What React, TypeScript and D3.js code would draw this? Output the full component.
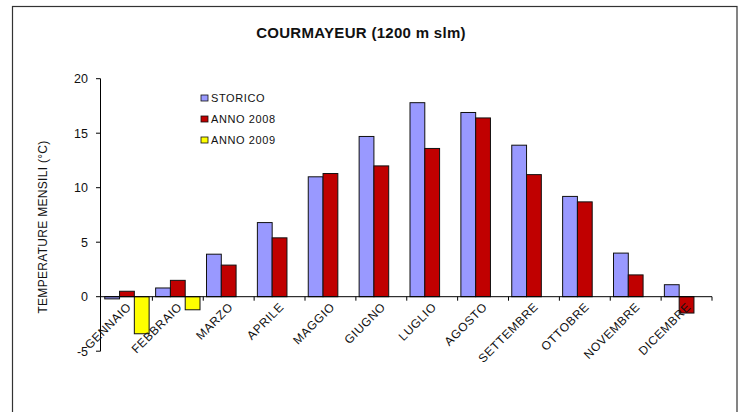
import React, { useEffect } from "react";
import * as d3 from "d3";

const months = ["GENNAIO","FEBBRAIO","MARZO","APRILE","MAGGIO","GIUGNO","LUGLIO","AGOSTO","SETTEMBRE","OTTOBRE","NOVEMBRE","DICEMBRE"];
const storico = [-0.2, 0.8, 3.9, 6.8, 11.0, 14.7, 17.8, 16.9, 13.9, 9.2, 4.0, 1.1];
const anno2008 = [0.5, 1.5, 2.9, 5.4, 11.3, 12.0, 13.6, 16.4, 11.2, 8.7, 2.0, -1.5];
const anno2009: (number | null)[] = [-3.4, -1.2, null, null, null, null, null, null, null, null, null, null];
const seriesNames = ["STORICO", "ANNO 2008", "ANNO 2009"];
const seriesColors = ["#9999FF", "#C00000", "#FFFF00"];
const yTicks = [-5, 0, 5, 10, 15, 20];

const W = 742, H = 412;
const FONT = "'Liberation Sans', Arial, sans-serif";

export default function App() {
  useEffect(() => {
    document.body.style.margin = "0";
  }, []);

  const x0 = d3.scaleBand<string>().domain(months).range([101.5, 712]).paddingInner(0).paddingOuter(0);
  const x1 = d3.scaleBand<string>().domain(seriesNames).range([0, x0.bandwidth()]).paddingOuter(0.22).paddingInner(0);
  const y = d3.scaleLinear().domain([-5, 20]).range([351.2, 78.7]);
  const all = [storico, anno2008, anno2009];

  return (
    <svg width={W} height={H} style={{ position: "absolute", left: 0, top: 0, background: "#fff" }} fontFamily={FONT}>
      <rect x={12.5} y={6.5} width={724.5} height={420} fill="#fff" stroke="#333" strokeWidth={1.2} />
      <text x={361} y={38} textAnchor="middle" fontSize={15} fontWeight="bold" fill="#111" letterSpacing={0.3}>
        COURMAYEUR (1200 m slm)
      </text>
      <g transform="translate(47,227)">
        <text transform="rotate(-90)" textAnchor="middle" fontSize={12} fill="#111" letterSpacing={0.3}>
          TEMPERATURE MENSILI (°C)
        </text>
      </g>
      {/* y axis */}
      <line x1={100.5} x2={100.5} y1={y(20)} y2={y(-5)} stroke="#000" />
      {yTicks.map((t) => (
        <g key={"yt" + t}>
          <line x1={96} x2={100.5} y1={y(t)} y2={y(t)} stroke="#000" />
          <text x={88} y={y(t)} dy="0.36em" textAnchor="end" fontSize={12.5} fill="#111">{t}</text>
        </g>
      ))}
      {/* bars */}
      {months.map((m, i) => (
        <g key={"b" + m} transform={`translate(${x0(m)},0)`}>
          {all.map((s, j) => {
            const v = s[i];
            if (v === null || v === undefined) return null;
            const y0 = y(0), yv = y(v);
            return (
              <rect key={j} x={x1(seriesNames[j])} y={Math.min(y0, yv)} width={x1.bandwidth()}
                height={Math.abs(yv - y0)} fill={seriesColors[j]} stroke="#111" strokeWidth={1} />
            );
          })}
        </g>
      ))}
      {/* x axis */}
      <line x1={100.5} x2={712} y1={y(0)} y2={y(0)} stroke="#000" />
      {months.map((m) => (
        <line key={"t" + m} x1={(x0(m) as number) + x0.bandwidth()} x2={(x0(m) as number) + x0.bandwidth()} y1={y(0)} y2={y(0) + 4} stroke="#000" />
      ))}
      {months.map((m) => {
        const cx = (x0(m) as number) + x0.bandwidth() / 2;
        return (
          <g key={"l" + m} transform={`translate(${cx + 5},${y(0) + 11})`}>
            <text transform="rotate(-45)" textAnchor="end" fontSize={12} fill="#111" letterSpacing={0.6}>
              {m}
            </text>
          </g>
        );
      })}
      {/* legend */}
      {seriesNames.map((n, j) => (
        <g key={n} transform={`translate(201,${98 + j * 21})`}>
          <rect x={0} y={-3} width={7} height={6} fill={seriesColors[j]} stroke="#111" strokeWidth={0.8} />
          <text x={10} y={0} dy="0.36em" fontSize={11} fill="#111" letterSpacing={0.6}>{n}</text>
        </g>
      ))}
    </svg>
  );
}
